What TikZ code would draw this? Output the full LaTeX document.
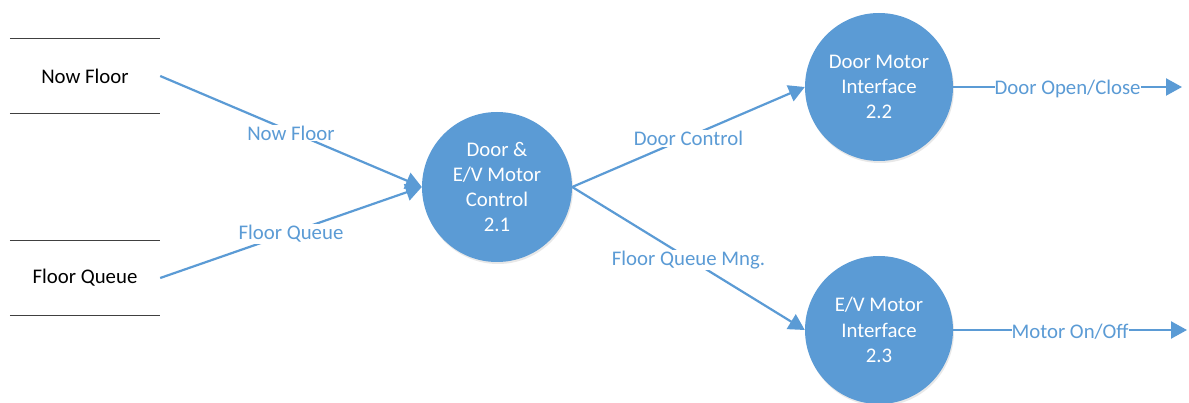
\documentclass[tikz,border=0pt]{standalone}
\usepackage{fontspec}
\setmainfont{Carlito}
\usetikzlibrary{arrows.meta,shadows}
\definecolor{obl}{HTML}{5B9BD5}
\begin{document}
\begin{tikzpicture}[x=1pt,y=-1pt,
  every node/.style={font=\fontsize{20.8}{25.2}\selectfont},
  proc/.style={circle,fill=obl,minimum size=150pt,inner sep=0pt,text=white,align=center,
    drop shadow={opacity=0.18,shadow xshift=1pt,shadow yshift=-2pt}},
  store/.style={minimum width=150pt,minimum height=75pt,inner sep=0pt},
  storeline/.style={line width=0.9pt,black!75},
  flow/.style={draw=obl,line width=2.2pt,-{Triangle[length=16pt,width=17pt]}},
  flowlbl/.style={fill=white,text=obl,inner sep=1pt,yshift=-1.5pt}]
\useasboundingbox (0,0) rectangle (1189,403);
\fill[white] (0,0) rectangle (1189,403);
% data stores
\node[store] (nf) at (85,76) {Now Floor};
\node[store] (fq) at (85,278) {Floor Queue};
\draw[storeline] (nf.north west) -- (nf.north east);
\draw[storeline] (nf.south west) -- (nf.south east);
\draw[storeline] (fq.north west) -- (fq.north east);
\draw[storeline] (fq.south west) -- (fq.south east);
% processes
\node[proc] (c1) at (497,187) {Door \&\\E/V Motor\\Control\\2.1};
\node[proc,minimum size=148pt] (c2) at (879,87) {Door Motor\\Interface\\2.2};
\node[proc,minimum size=148pt] (c3) at (879,330) {E/V Motor\\Interface\\2.3};
\coordinate (o2) at (1182,87);
\coordinate (o3) at (1187,330);
% flows
\draw[flow] (nf.east) -- node[flowlbl,midway]{Now Floor} (c1.west);
\draw[flow] (fq.east) -- node[flowlbl,midway]{Floor Queue} (c1.west);
\draw[flow] (c1.east) -- node[flowlbl,midway]{Door Control} (c2.west);
\draw[flow] (c1.east) -- node[flowlbl,midway]{Floor Queue Mng.} (c3.west);
\draw[flow] (c2.east) -- node[flowlbl,midway,inner sep=0pt,yshift=0pt]{Door Open/Close} (o2);
\draw[flow] (c3.east) -- node[flowlbl,midway,inner sep=0pt,yshift=0pt]{Motor On/Off} (o3);
\end{tikzpicture}
\end{document}
